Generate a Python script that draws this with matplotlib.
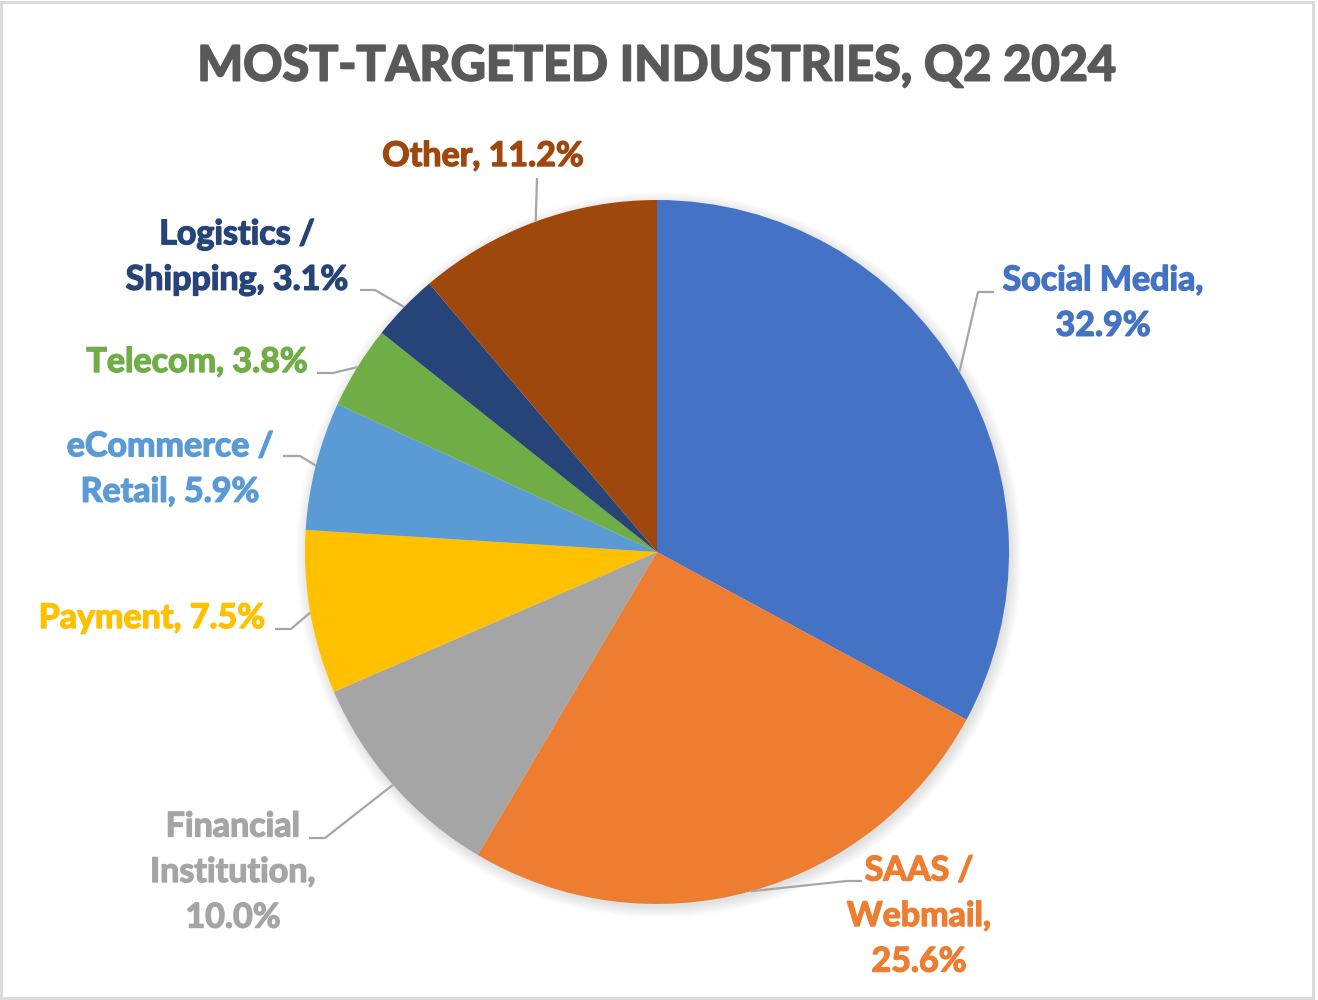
import numpy as np
import matplotlib
matplotlib.use("Agg")
import matplotlib.pyplot as plt
import matplotlib.patheffects as pe
from matplotlib.patches import Circle, Rectangle

# ---- data ----
labels = ["Social Media", "SAAS /\nWebmail", "Financial\nInstitution", "Payment",
          "eCommerce /\nRetail", "Telecom", "Logistics /\nShipping", "Other"]
shares = [32.9, 25.6, 10.0, 7.5, 5.9, 3.8, 3.1, 11.2]
colors = ["#4472C4", "#ED7D31", "#A5A5A5", "#FFC000",
          "#5B9BD5", "#70AD47", "#264478", "#9E480E"]
# how each label text is broken into lines
label_texts = ["Social Media,\n32.9%", "SAAS /\nWebmail,\n25.6%",
               "Financial\nInstitution,\n10.0%", "Payment, 7.5%",
               "eCommerce /\nRetail, 5.9%", "Telecom, 3.8%",
               "Logistics /\nShipping, 3.1%", "Other, 11.2%"]

# ---- layout (pixel coords, y measured from top) ----
W, H = 1318, 1000
cx, cy, R = 657, 552, 352
text_pos = [(1103, 303), (919, 916), (233, 872), (152, 618),
            (170, 469), (197, 362), (237, 257), (483, 156)]
# leader line: start near text, elbow before going to the wedge
leader = [((994, 292), (978, 292)), ((862, 881), (847, 881)),
          ((309, 838), (325, 838)), ((275, 629), (291, 629)),
          ((283, 456), (300, 456)), ((317, 373), (333, 373)),
          ((360, 290), (375, 290)), ((537, 178), (537, 178))]

plt.rcParams["font.family"] = ["Lato", "DejaVu Sans"]
fig = plt.figure(figsize=(W / 100, H / 100), dpi=100)
ax = fig.add_axes([0, 0, 1, 1])
ax.set_xlim(0, W)
ax.set_ylim(0, H)
ax.set_aspect("equal")
ax.axis("off")


def fy(y):
    return H - y


# soft shadow under the pie
for i in range(10):
    ax.add_patch(Circle((cx + 2, fy(cy) - 3), R + i * 1.2, color="black",
                        alpha=0.012, lw=0, zorder=1))

wedges, _ = ax.pie(shares, colors=colors, startangle=90, counterclock=False,
                   radius=R, center=(cx, fy(cy)), frame=True,
                   wedgeprops=dict(linewidth=0, zorder=2))
ax.set_xlim(0, W)
ax.set_ylim(0, H)
ax.axis("off")

for w, txt, col, (tx, ty), (p0, p1) in zip(wedges, label_texts, colors,
                                            text_pos, leader):
    ang = np.deg2rad((w.theta1 + w.theta2) / 2)
    ax_, ay_ = cx + R * np.cos(ang), fy(cy) + R * np.sin(ang)
    ax.plot([p0[0], p1[0], ax_], [fy(p0[1]), fy(p1[1]), ay_],
            color="#A6A6A6", lw=1.6, zorder=3, solid_capstyle="butt")
    ax.text(tx, fy(ty), txt, color=col, fontsize=24.5, fontweight="bold",
            ha="center", va="center", multialignment="center",
            linespacing=1.52, zorder=4,
            path_effects=[pe.withStroke(linewidth=1.0, foreground=col)])

ax.text(657, fy(66), "MOST-TARGETED INDUSTRIES, Q2 2024", color="#595959",
        fontsize=35, fontweight="bold", ha="center", va="center",
        path_effects=[pe.withStroke(linewidth=1.4, foreground="#595959")])

ax.add_patch(Rectangle((1, fy(998)), 1312, 996, fill=False,
                       edgecolor="#D9D9D9", lw=2, zorder=5))

fig.savefig("out.png", dpi=100)
